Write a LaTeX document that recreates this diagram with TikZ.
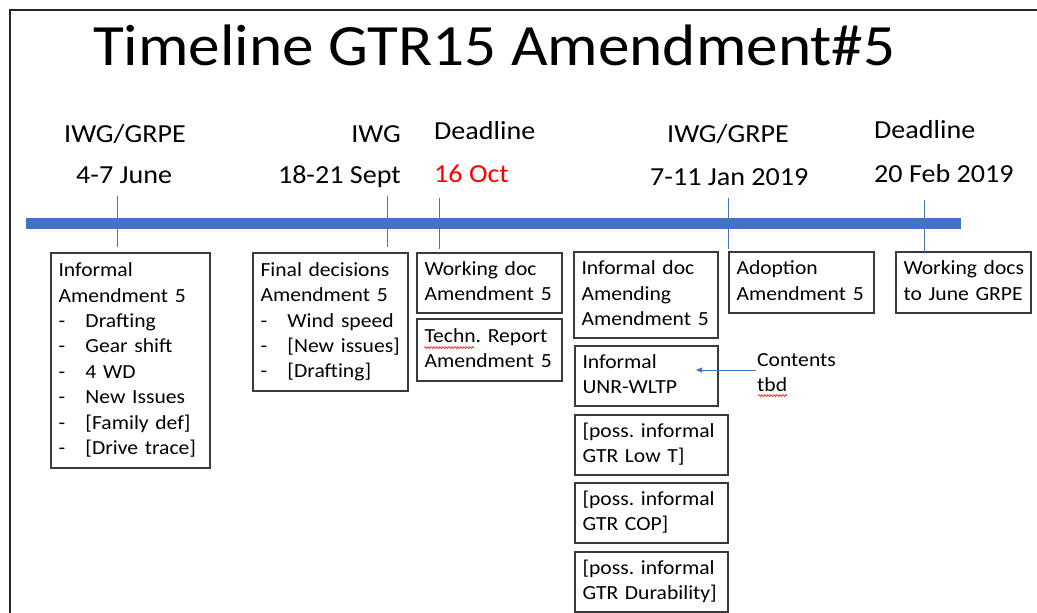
\documentclass[tikz,border=0pt]{standalone}
\usepackage{fontspec}
\setmainfont{Carlito}[FakeStretch=1.08]
\usetikzlibrary{arrows.meta,decorations.pathmorphing}
\definecolor{barblue}{HTML}{4472C4}
\definecolor{boxline}{HTML}{3A3A3A}
\frenchspacing
\newcommand{\boxfont}{\fontsize{20pt}{25.4pt}\selectfont}
\newcommand{\lblfont}{\fontsize{26pt}{31pt}\selectfont}
\newcommand{\ttlfont}{\fontsize{58.5pt}{70pt}\selectfont}
\newcommand{\sline}[1]{\mbox{\strut#1}}
\newcommand{\itm}[1]{\mbox{\strut\makebox[27pt][l]{-}#1}}
\tikzset{
  box/.style={draw=boxline, line width=1.3pt, anchor=north west, inner xsep=7.5pt,
    inner ysep=0pt, outer sep=0pt, align=left, font=\boxfont},
  lbl/.style={inner sep=0pt, font=\lblfont},
  tickln/.style={draw=barblue, line width=1pt},
  barln/.style={draw=barblue, line width=11pt},
  arrowln/.style={draw=barblue, line width=0.9pt, -{Triangle[length=6pt,width=5pt]}},
  spell/.style={draw=red, line width=0.6pt, decorate,
    decoration={snake, amplitude=0.9pt, segment length=3pt}},
  frameln/.style={draw=black!85, line width=2pt}
}
\begin{document}
\begin{tikzpicture}[x=1pt,y=-1pt]
\fill[white] (0,0) rectangle (1037,613);
\useasboundingbox (0,0) rectangle (1037,613);
% frame
\draw[frameln] (9.5,613) -- (9.5,9.5) -- (1040,9.5);
% title
\node[anchor=base west, inner sep=0pt, font=\ttlfont] (title) at (93,65) {Timeline GTR15 Amendment\#5};
% timeline bar
\coordinate (barL) at (26,223.5);
\coordinate (barR) at (961,223.5);
\draw[barln] (barL) -- (barR);
% labels
\node[lbl, anchor=base west] (l1a) at (64,142) {IWG/GRPE};
\node[lbl, anchor=base west] (l1b) at (76,183) {4-7 June};
\node[lbl, anchor=base east] (l2a) at (401,142) {IWG};
\node[lbl, anchor=base east] (l2b) at (401,183) {18-21 Sept};
\node[lbl, anchor=base west] (l3a) at (434,139) {Deadline};
\node[lbl, anchor=base west, text=red] (l3b) at (434,182) {16 Oct};
\node[lbl, anchor=base west] (l4a) at (667,142) {IWG/GRPE};
\node[lbl, anchor=base west] (l4b) at (650,185) {7-11 Jan 2019};
\node[lbl, anchor=base west] (l5a) at (874,138) {Deadline};
\node[lbl, anchor=base west] (l5b) at (874,182) {20 Feb 2019};
% boxes
\node[box, text width=144pt, minimum width=159pt, minimum height=215pt] (inf) at (51,253)
  {\sline{Informal}\\ \sline{Amendment 5}\\ \itm{Drafting}\\ \itm{Gear shift}\\ \itm{4 WD}\\
   \itm{New Issues}\\ \itm{[Family def]}\\ \itm{[Drive trace]}};
\node[box, text width=140pt, minimum width=155pt, minimum height=138pt] (fin) at (253,253)
  {\sline{Final decisions}\\ \sline{Amendment 5}\\ \itm{Wind speed}\\ \itm{[New issues]}\\ \itm{[Drafting]}};
\node[box, text width=130pt, minimum width=145pt, minimum height=60pt] (wd) at (417,253)
  {\sline{Working doc}\\ \sline{Amendment 5}};
\node[box, text width=130pt, minimum width=145pt, minimum height=62pt] (tr) at (417,319)
  {\sline{Techn. Report}\\ \sline{Amendment 5}};
\node[box, text width=129pt, minimum width=144pt, minimum height=86pt] (ida) at (574,252)
  {\sline{Informal doc}\\ \sline{Amending}\\ \sline{Amendment 5}};
\node[box, text width=128pt, minimum width=143pt, minimum height=60pt] (unr) at (575,346)
  {\sline{Informal}\\ \sline{UNR-WLTP}};
\node[box, text width=138pt, minimum width=153pt, minimum height=60pt] (lowt) at (575,415)
  {\sline{[poss. informal}\\ \sline{GTR Low T]}};
\node[box, text width=138pt, minimum width=153pt, minimum height=60pt] (cop) at (575,483)
  {\sline{[poss. informal}\\ \sline{GTR COP]}};
\node[box, text width=138pt, minimum width=153pt, minimum height=60pt] (dur) at (575,552)
  {\sline{[poss. informal}\\ \sline{GTR Durability]}};
\node[box, text width=130pt, minimum width=145pt, minimum height=61pt] (adop) at (729,252)
  {\sline{Adoption}\\ \sline{Amendment 5}};
\node[box, text width=120pt, minimum width=135pt, minimum height=61pt] (wds) at (896,252)
  {\sline{Working docs}\\ \sline{to June GRPE}};
% ticks
\coordinate (t1a) at (117,196); \coordinate (t1b) at (117,247);
\coordinate (t2a) at (387,196); \coordinate (t2b) at (387,247);
\coordinate (t3a) at (439,198); \coordinate (t3b) at (439,249);
\coordinate (t4a) at (728,198); \coordinate (t4b) at (728,249);
\coordinate (t5a) at (924,200); \coordinate (t5b) at (924,252);
\draw[tickln] (t1a) -- (t1b);
\draw[tickln] (t2a) -- (t2b);
\draw[tickln] (t3a) -- (t3b);
\draw[tickln] (t4a) -- (t4b);
\draw[tickln] (t5a) -- (t5b);
% contents tbd
\node[anchor=north west, inner sep=0pt, align=left, font=\boxfont] (cont) at (757,348.2)
  {\sline{Contents}\\ \sline{tbd}};
\coordinate (arrS) at (756,370);
\coordinate (arrE) at (696,370);
\draw[arrowln] (arrS) -- (arrE);
% spelling marks
\coordinate (sp1a) at (424,347.5); \coordinate (sp1b) at (474,347.5);
\coordinate (sp2a) at (758,395.5); \coordinate (sp2b) at (787,395.5);
\draw[spell] (sp1a) -- (sp1b);
\draw[spell] (sp2a) -- (sp2b);
\end{tikzpicture}
\end{document}
